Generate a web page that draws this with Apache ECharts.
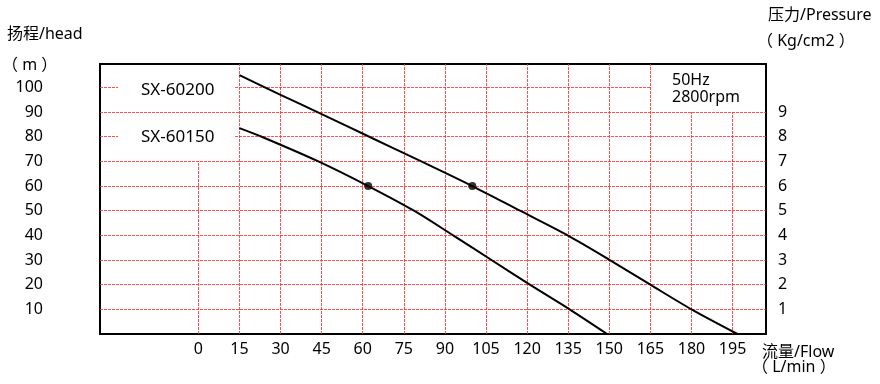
<!DOCTYPE html>
<html>
<head>
<meta charset="utf-8">
<script src="https://cdn.jsdelivr.net/npm/echarts@6/dist/echarts.min.js"></script>
<style>
html,body{margin:0;padding:0;background:#fff;}
#chart{width:880px;height:384px;}
</style>
</head>
<body>
<div id="chart"></div>
<script>
// ---- data ----
const flowTicks = [0, 15, 30, 45, 60, 75, 90, 105, 120, 135, 150, 165, 180, 195];
const headTicks = [10, 20, 30, 40, 50, 60, 70, 80, 90, 100];
const pressureTicks = [1, 2, 3, 4, 5, 6, 7, 8, 9];
const sx60200 = [[15,105],[30,97],[45,89.2],[62,80.2],[81,70.2],[100,60],[117.4,50],[134.8,40],[150.2,30],[165,20],[180,10],[196.8,0]];
const sx60150 = [[15,83.5],[23.1,80],[43.8,70],[62,60],[78.7,50],[93,40],[107,30],[121,20],[135.5,10],[149.2,0]];
const dutyPoints = [[62,60],[100,60]];

// ---- axis extents ----
const X_MIN = -35.9, X_MAX = 207.2;
const Y_MAX = 109.5;
const LABEL_GAP = [-29.3, 13.4];

// grid segments built from tick arrays
const segs = [];
headTicks.forEach(h => {
  if (h === 100) {
    segs.push([[X_MIN,h],[LABEL_GAP[0],h]]);
    segs.push([[LABEL_GAP[1],h],[165,h]]);
  } else if (h === 80) {
    segs.push([[X_MIN,h],[LABEL_GAP[0],h]]);
    segs.push([[LABEL_GAP[1],h],[X_MAX,h]]);
  } else {
    segs.push([[X_MIN,h],[X_MAX,h]]);
  }
});
flowTicks.forEach(f => {
  let top = Y_MAX;
  if (f === 0) top = 70;
  if (f === 180 || f === 195) top = 90;
  segs.push([[f,0],[f,top]]);
});

const FONT = "'Noto Sans', 'Noto Sans CJK SC', sans-serif";
const chart = echarts.init(document.getElementById('chart'));
const txt = (text, x, y, size) => ({
  type: 'text', x: x, y: y, z: 100,
  style: { text: text, fill: '#000', font: (size || 16) + 'px ' + FONT, textVerticalAlign: 'middle' }
});

chart.setOption({
  animation: false,
  textStyle: { fontFamily: FONT },
  grid: { left: 100, right: 114, top: 64, bottom: 50, show: true, borderColor: '#000', borderWidth: 2, backgroundColor: 'transparent' },
  xAxis: {
    type: 'value', min: X_MIN, max: X_MAX,
    axisLine: { show: false }, axisTick: { show: false }, splitLine: { show: false },
    axisLabel: { customValues: flowTicks, color: '#000', fontSize: 16, margin: 7 }
  },
  yAxis: [
    {
      type: 'value', min: 0, max: Y_MAX, position: 'left',
      axisLine: { show: false }, axisTick: { show: false }, splitLine: { show: false },
      axisLabel: { customValues: headTicks, color: '#000', fontSize: 16, margin: 57 }
    },
    {
      type: 'value', min: 0, max: Y_MAX / 10, position: 'right',
      axisLine: { show: false }, axisTick: { show: false }, splitLine: { show: false },
      axisLabel: { customValues: pressureTicks, color: '#000', fontSize: 16, margin: 12, align: 'left' }
    }
  ],
  series: [
    {
      type: 'line', data: [], silent: true, z: 1,
      markLine: {
        silent: true, symbol: ['none','none'], label: { show: false }, animation: false,
        lineStyle: { color: '#ff3030', width: 1, type: [3,1], opacity: 0.85 },
        emphasis: { disabled: true },
        data: segs.map(s => [{ coord: s[0] }, { coord: s[1] }])
      }
    },
    {
      name: 'SX-60200', type: 'line', data: sx60200, showSymbol: false, smooth: 0.3, z: 5,
      lineStyle: { color: '#000', width: 2 }
    },
    {
      name: 'SX-60150', type: 'line', data: sx60150, showSymbol: false, smooth: 0.3, z: 5,
      lineStyle: { color: '#000', width: 2 }
    },
    {
      type: 'scatter', data: dutyPoints, symbolSize: 8, z: 6,
      itemStyle: { color: '#000' }
    }
  ],
  graphic: [
    txt('扬程/head', 7, 34),
    txt('（ m ）', 2, 65),
    txt('压力/Pressure', 768, 15),
    txt('（ Kg/cm2 ）', 757, 41),
    txt('流量/Flow', 762, 352),
    txt('（ L/min ）', 752, 367),
    txt('SX-60200', 141, 90, 17),
    txt('SX-60150', 141, 137, 17),
    txt('50Hz', 672, 80),
    txt('2800rpm', 672, 97)
  ]
});
</script>
</body>
</html>
